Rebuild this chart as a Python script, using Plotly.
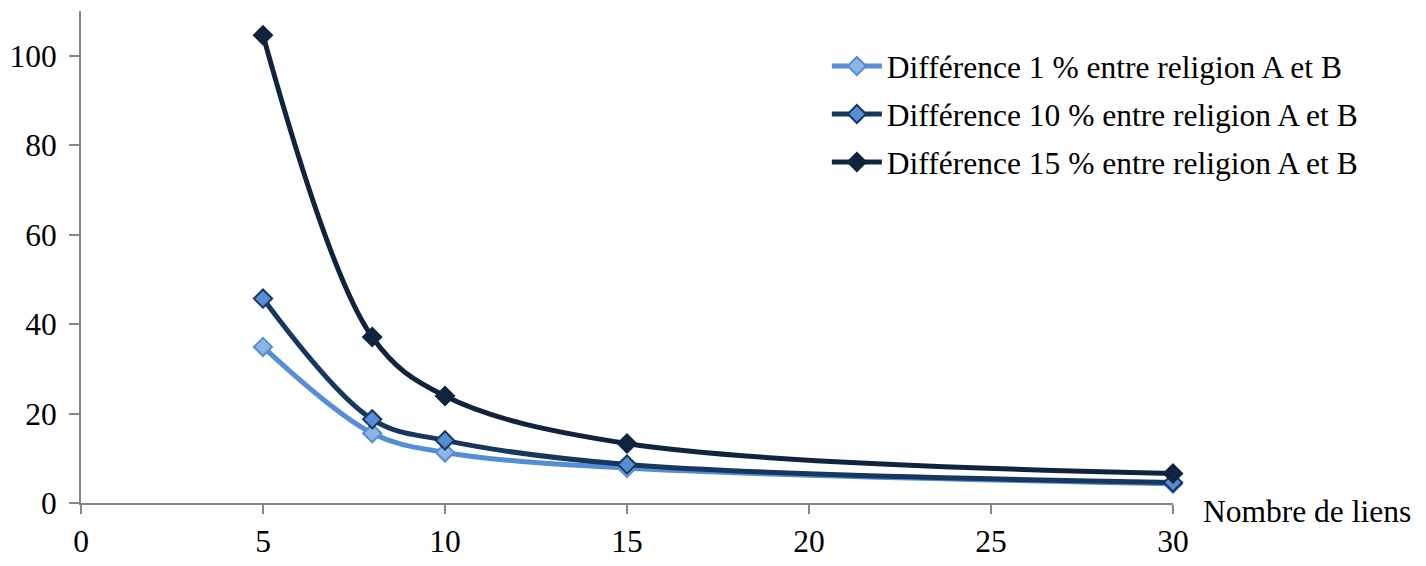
import plotly.graph_objects as go

x_liens = [5, 8, 10, 15, 30]
diff_1 = [34.9, 15.6, 11.3, 7.8, 4.3]
diff_10 = [45.7, 18.7, 14.0, 8.6, 4.6]
diff_15 = [104.6, 37.1, 23.9, 13.3, 6.6]
names = ["Différence 1 % entre religion A et B",
         "Différence 10 % entre religion A et B",
         "Différence 15 % entre religion A et B"]
x_ticks = [0, 5, 10, 15, 20, 25, 30]
y_ticks = [0, 20, 40, 60, 80, 100]

FONT = "Liberation Serif"
styles = [
    dict(line="#558ED5", fill="#8EB4E3", border="#558ED5"),
    dict(line="#17375E", fill="#558ED5", border="#17375E"),
    dict(line="#10243E", fill="#10243E", border="#10243E"),
]

fig = go.Figure()
for i, (vals, name, st) in enumerate(zip([diff_1, diff_10, diff_15], names, styles)):
    fig.add_trace(go.Scatter(
        x=x_liens, y=vals, name=name, mode="lines+markers",
        line=dict(color=st["line"], width=5, shape="spline", smoothing=1),
        marker=dict(symbol="diamond", size=14, color=st["fill"],
                    line=dict(color=st["border"], width=2)),
        cliponaxis=False, legendgroup=f"g{i}",
    ))

fig.add_annotation(text="Nombre de liens", x=30, y=0, xref="x", yref="y",
                   xanchor="left", yanchor="middle", xshift=28, yshift=-8,
                   showarrow=False, font=dict(family=FONT, size=31.5, color="black"))

fig.update_layout(
    width=1426, height=566,
    margin=dict(l=73, r=261, t=3, b=71, autoexpand=False),
    paper_bgcolor="white", plot_bgcolor="white",
    font=dict(family=FONT, size=31.5, color="black"),
    showlegend=True,
    legend=dict(x=0.683, y=0.943, xanchor="left", yanchor="top",
                traceorder="grouped", tracegroupgap=4,
                bgcolor="rgba(0,0,0,0)", itemwidth=50,
                font=dict(family=FONT, size=31.5, color="black")),
    xaxis=dict(range=[0, 30], tickvals=x_ticks, ticktext=[str(v) for v in x_ticks],
               showgrid=False, zeroline=False, showline=True, automargin=False,
               linecolor="#868686", linewidth=2, ticks="outside", ticklen=9,
               tickcolor="#868686", tickwidth=2),
    yaxis=dict(range=[0, 110], tickvals=y_ticks, ticktext=[str(v) for v in y_ticks],
               showgrid=False, zeroline=False, showline=True, automargin=False,
               linecolor="#868686", linewidth=2, ticks="outside", ticklen=10,
               tickcolor="#868686", tickwidth=2, ticklabelstandoff=6),
)

fig.write_html("out.html")
